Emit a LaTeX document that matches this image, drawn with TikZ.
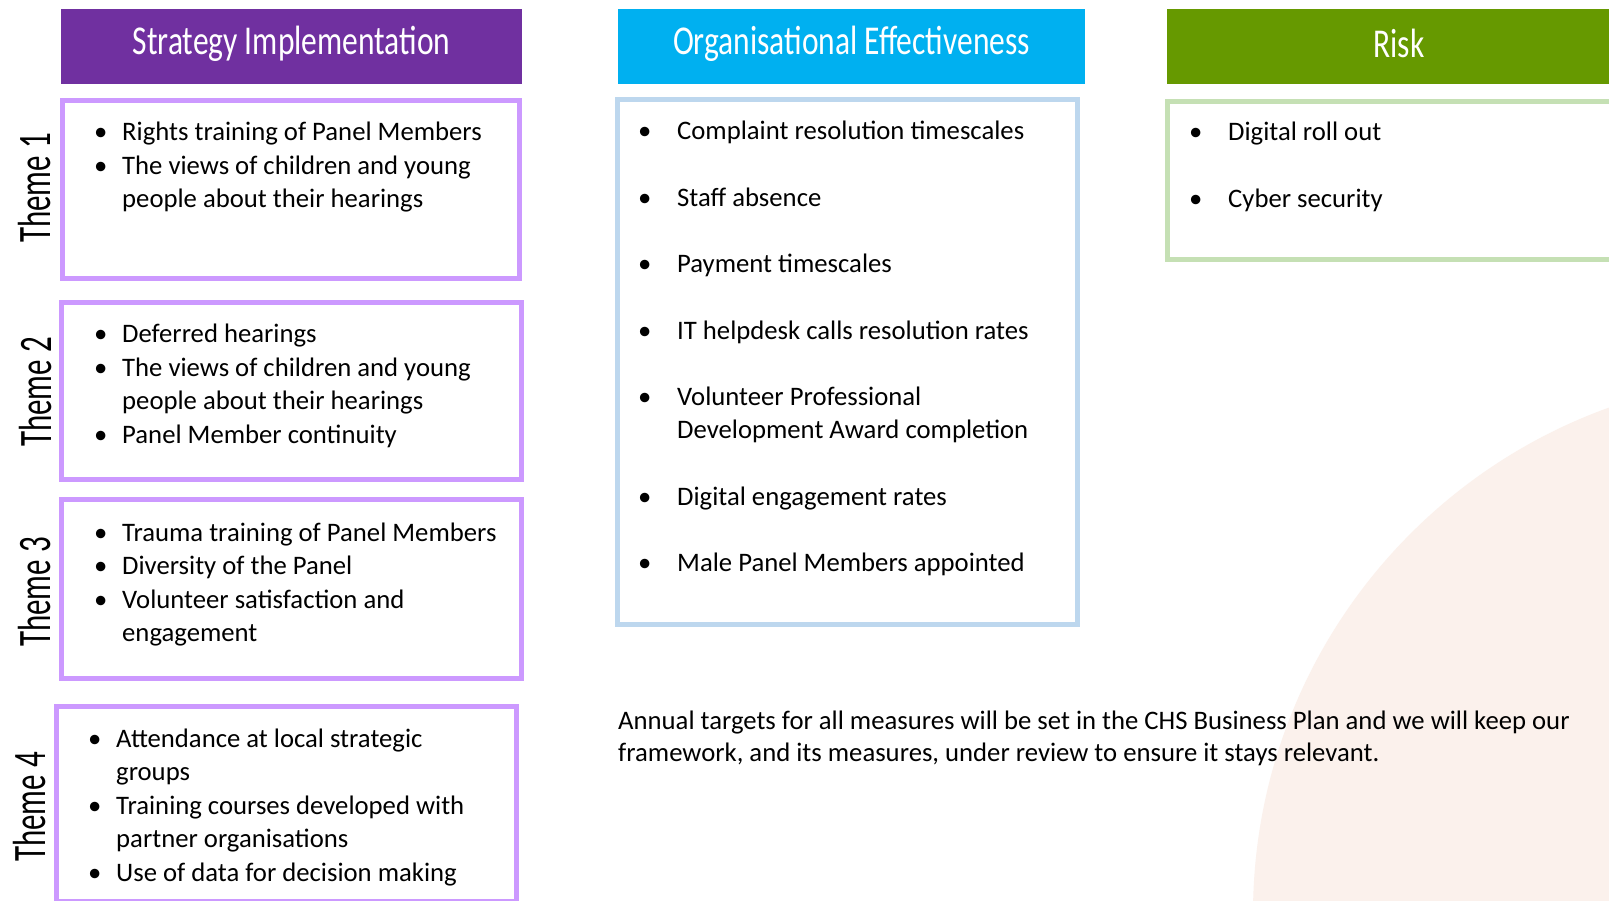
\documentclass[tikz,border=0pt]{standalone}
\usepackage{fontspec}
\setmainfont{Carlito}
\usepackage{graphicx}
\definecolor{hPurple}{HTML}{7030A0}
\definecolor{hBlue}{HTML}{00B0F0}
\definecolor{hGreen}{HTML}{669900}
\definecolor{bLilac}{HTML}{CC99FF}
\definecolor{bBlue}{HTML}{BDD7EE}
\definecolor{bGreen}{HTML}{C5E0B4}
\definecolor{peach}{HTML}{FBF1EC}
\newlength\bulletw
\newcommand{\bitem}[1]{\makebox[\bulletw][l]{•}#1}
\newcommand{\cont}[1]{\hspace*{\bulletw}#1}
\newcommand{\hdrtext}[1]{\raisebox{3pt}[\height][\depth]{\scalebox{1}[1.3]{#1}}}
\begin{document}
\begin{tikzpicture}[x=1pt,y=-1pt,
  hdr/.style={fill=#1, draw=none, inner sep=0pt, text=white,
    font=\fontsize{31.5}{36}\selectfont},
  framebox/.style={draw=#1, line width=5pt, fill=none, inner sep=0pt},
  themelabel/.style={rotate=90, inner sep=0pt, text=black,
    font=\fontsize{31}{36}\selectfont},
  listtext/.style={anchor=base west, inner sep=0pt, text=black,
    font=\fontsize{26.7}{33.5}\selectfont},
  midtext/.style={anchor=base west, inner sep=0pt, text=black,
    font=\fontsize{26.7}{33.2}\selectfont}
]
\useasboundingbox (0,0) rectangle (1609,901);
\fill[white] (0,0) rectangle (1609,901);
\begin{scope}
\clip (0,0) rectangle (1609,901);
\fill[peach] (1791,914) circle[radius=538];

% headers
\node[hdr=hPurple, minimum width=461pt, minimum height=75pt] (h1) at (291.5,46.5)
  {\hdrtext{Strategy Implementation}};
\node[hdr=hBlue, minimum width=467pt, minimum height=75pt] (h2) at (851.5,46.5)
  {\hdrtext{Organisational Effectiveness}};
\node[hdr=hGreen, minimum width=464pt, minimum height=75pt] (h3) at (1399,46.5)
  {\hdrtext{Risk}};

% frames
\node[framebox=bLilac, minimum width=457pt, minimum height=178pt] (b1) at (291.3,189.5) {};
\node[framebox=bLilac, minimum width=460pt, minimum height=177pt] (b2) at (291.8,391) {};
\node[framebox=bLilac, minimum width=460pt, minimum height=179pt] (b3) at (291.8,589) {};
\node[framebox=bLilac, minimum width=460pt, minimum height=194.5pt] (b4) at (286.3,803.75) {};
\node[framebox=bBlue, minimum width=460pt, minimum height=525pt] (b5) at (847.5,362) {};
\node[framebox=bGreen, minimum width=464pt, minimum height=158pt] (b6) at (1399.5,180.5) {};

% theme labels
\node[themelabel] (l1) at (34.5,188) {\scalebox{1}[1.5]{Theme 1}};
\node[themelabel] (l2) at (36,392) {\scalebox{1}[1.5]{Theme 2}};
\node[themelabel] (l3) at (35,592) {\scalebox{1}[1.5]{Theme 3}};
\node[themelabel] (l4) at (29.5,807) {\scalebox{1}[1.5]{Theme 4}};

% lists
\node[listtext] (t1) at (94,141) {\setlength\bulletw{28pt}\parbox[t]{440pt}{%
  \bitem{Rights training of Panel Members}\\
  \bitem{The views of children and young}\\
  \cont{people about their hearings}}};
\node[listtext] (t2) at (94,342.5) {\setlength\bulletw{28pt}\parbox[t]{440pt}{%
  \bitem{Deferred hearings}\\
  \bitem{The views of children and young}\\
  \cont{people about their hearings}\\
  \bitem{Panel Member continuity}}};
\node[listtext] (t3) at (94,541) {\setlength\bulletw{28pt}\parbox[t]{440pt}{%
  \bitem{Trauma training of Panel Members}\\
  \bitem{Diversity of the Panel}\\
  \bitem{Volunteer satisfaction and}\\
  \cont{engagement}}};
\node[listtext] (t4) at (88,747) {\setlength\bulletw{28pt}\parbox[t]{440pt}{%
  \bitem{Attendance at local strategic}\\
  \cont{groups}\\
  \bitem{Training courses developed with}\\
  \cont{partner organisations}\\
  \bitem{Use of data for decision making}}};
\node[midtext] (t5) at (638,140) {\setlength\bulletw{39pt}\parbox[t]{440pt}{%
  \bitem{Complaint resolution timescales}\\[33.2pt]
  \bitem{Staff absence}\\[33.2pt]
  \bitem{Payment timescales}\\[33.2pt]
  \bitem{IT helpdesk calls resolution rates}\\[33.2pt]
  \bitem{Volunteer Professional}\\
  \cont{Development Award completion}\\[33.2pt]
  \bitem{Digital engagement rates}\\[33.2pt]
  \bitem{Male Panel Members appointed}}};
\node[midtext] (t6) at (1189,141) {\setlength\bulletw{39pt}\parbox[t]{400pt}{%
  \bitem{Digital roll out}\\[33.2pt]
  \bitem{Cyber security}}};

% note
\node[midtext] (note) at (618,729) {\parbox[t]{990pt}{%
  Annual targets for all measures will be set in the CHS Business Plan and we will keep our\\[-0.4pt]
  framework, and its measures, under review to ensure it stays relevant.}};
\end{scope}
\end{tikzpicture}
\end{document}
